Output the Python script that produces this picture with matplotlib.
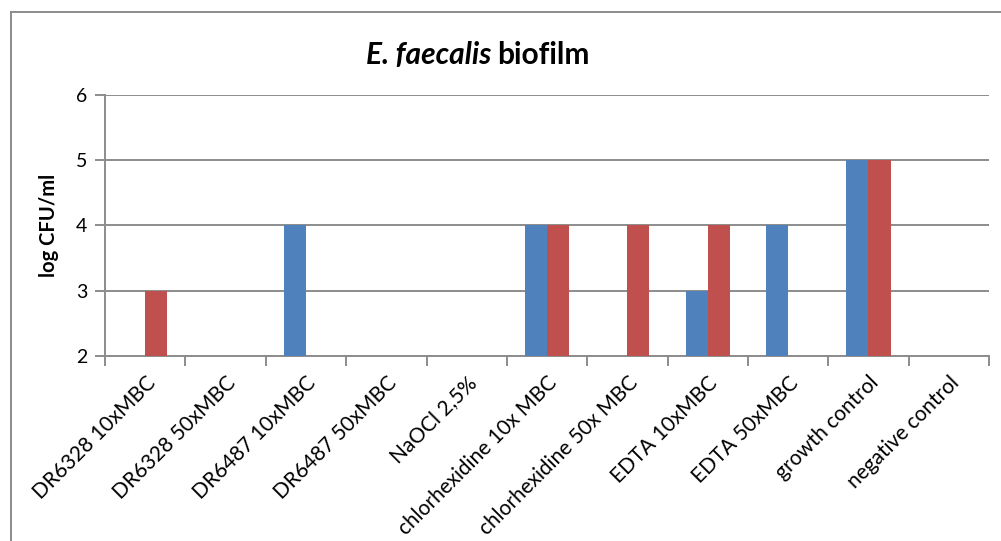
import numpy as np
import matplotlib.pyplot as plt
from matplotlib.lines import Line2D
from matplotlib.transforms import ScaledTranslation

# data (nan = no bar)
categories = ['DR6328 10xMBC', 'DR6328 50xMBC', 'DR6487 10xMBC', 'DR6487 50xMBC',
              'NaOCl 2,5%', 'chlorhexidine 10x MBC', 'chlorhexidine 50x MBC',
              'EDTA 10xMBC', 'EDTA 50xMBC', 'growth control', 'negative control']
blue_vals = [np.nan, np.nan, 4, np.nan, np.nan, 4, np.nan, 3, 4, 5, np.nan]
red_vals = [3, np.nan, np.nan, np.nan, np.nan, 4, 4, 4, np.nan, 5, np.nan]
yticks = [2, 3, 4, 5, 6]

plt.rcParams['font.family'] = ['Lato', 'DejaVu Sans']

fig = plt.figure(figsize=(10.01, 5.41), dpi=100)
ax = fig.add_axes([0.105, 0.342, 0.883, 0.4825])

x = np.arange(len(categories))
w = 0.275
ax.bar(x - w / 2, blue_vals, width=w, color='#4F81BD', zorder=3)
ax.bar(x + w / 2, red_vals, width=w, color='#C0504D', zorder=3)

ax.set_xlim(-0.5, len(categories) - 0.5)
ax.set_ylim(2, 6)
ax.set_yticks(yticks)
ax.yaxis.grid(True, color='#8c8c8c', linewidth=1.4, zorder=0)
ax.set_axisbelow(True)

# category boundaries as ticks, labels in the middle
ax.set_xticks(np.arange(len(categories) + 1) - 0.5)
ax.set_xticklabels([])
ax.set_xticks(x, minor=True)
ax.set_xticklabels(categories, minor=True, rotation=45, ha='right',
                   rotation_mode='anchor', fontsize=15)
ax.tick_params(axis='x', which='minor', length=0, pad=12)
ax.tick_params(axis='x', which='major', length=7, width=1.4, color='#8c8c8c')
ax.tick_params(axis='y', length=7, width=1.4, color='#8c8c8c', labelsize=14, pad=6)
shift = ScaledTranslation(0, 0, fig.dpi_scale_trans)
for lab in ax.get_xticklabels(minor=True):
    lab.set_transform(lab.get_transform() + shift)

for s in ['top', 'right']:
    ax.spines[s].set_visible(False)
for s in ['left', 'bottom']:
    ax.spines[s].set_color('#8c8c8c')
    ax.spines[s].set_linewidth(1.4)

ax.set_ylabel('log CFU/ml', fontsize=14.5, fontweight='bold', labelpad=12)

# title with italic species name
fig.text(0.491, 0.899, 'E. faecalis', fontsize=21.5, fontweight='bold',
         fontstyle='italic', ha='right', va='center')
fig.text(0.497, 0.899, 'biofilm', fontsize=21.5, fontweight='bold',
         ha='left', va='center')

# outer chart frame (only left and top visible)
fig.add_artist(Line2D([0.011, 0.011], [0.0, 0.978], color='#8c8c8c', linewidth=1.4))
fig.add_artist(Line2D([0.011, 1.0], [0.978, 0.978], color='#8c8c8c', linewidth=1.4))

fig.savefig('out.png', dpi=100)
